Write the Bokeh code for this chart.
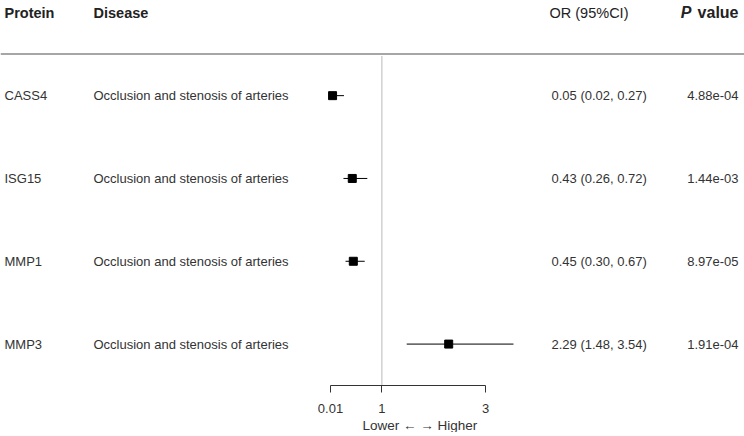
from bokeh.plotting import figure
from bokeh.models import Range1d, LinearAxis, FixedTicker, Span, Title, ColumnDataSource
from bokeh.core.properties import value
from bokeh.embed import file_html
from bokeh.resources import INLINE

# ---- data ----
proteins = ["CASS4", "ISG15", "MMP1", "MMP3"]
diseases = ["Occlusion and stenosis of arteries"] * 4
or_vals = [0.05, 0.43, 0.45, 2.29]
ci_low = [0.02, 0.26, 0.30, 1.48]
ci_high = [0.27, 0.72, 0.67, 3.54]
p_values = ["4.88e-04", "1.44e-03", "8.97e-05", "1.91e-04"]
tick_values = [0.01, 1, 3]
tick_labels = ["0.01", "1", "3"]

rows = list(range(len(proteins)))
or_text = [f"{o:.2f} ({l:.2f}, {h:.2f})" for o, l, h in zip(or_vals, ci_low, ci_high)]

FONT = "Liberation Sans"
W = 744
FH = 385
PX_PER_UNIT = 51.84
x_start = 0.01 - 330 / PX_PER_UNIT
x_end = x_start + W / PX_PER_UNIT

p = figure(frame_width=W, frame_height=FH, output_backend="svg", toolbar_location=None,
           x_range=Range1d(x_start, x_end), y_range=Range1d(3.5, -1.149),
           min_border_left=0, min_border_right=0, min_border_top=0, min_border_bottom=0,
           x_axis_type=None, y_axis_type=None)
p.extra_x_ranges = {"px": Range1d(0, W)}
p.xgrid.visible = False
p.ygrid.visible = False
p.outline_line_color = None
p.background_fill_color = "white"
p.border_fill_color = "white"

# axis
ax = LinearAxis(ticker=FixedTicker(ticks=tick_values), bounds=(0.01, 3))
ax.major_label_overrides = {v: t for v, t in zip(tick_values, tick_labels)}
ax.minor_tick_line_color = None
ax.major_tick_in = 0
ax.major_tick_out = 7
ax.axis_line_color = "#333333"
ax.major_tick_line_color = "#333333"
ax.major_label_text_font = FONT
ax.major_label_text_font_size = "13px"
ax.major_label_text_color = "#333333"
ax.major_label_standoff = 11
p.add_layout(ax, "below")

# axis caption
cap = Title(text="Lower \u2190  \u2192 Higher", align="left", offset=362, standoff=0,
            text_font=FONT, text_font_size="13.5px", text_font_style="normal",
            text_color="#333333")
p.add_layout(cap, "below")

# header line and reference line
p.add_layout(Span(location=-0.504, dimension="width", line_color="#888888", line_width=1.5))
p.segment(x0=[1], y0=[-0.48], x1=[1], y1=[3.5], line_color="#d0d0d0", line_width=1.5)

# CI + points
src = ColumnDataSource(dict(row=rows, orv=or_vals, lo=ci_low, hi=ci_high,
                            prot=proteins, dis=diseases, ort=or_text, pv=p_values))
p.segment(x0="lo", y0="row", x1="hi", y1="row", source=src, line_color="black", line_width=1)
p.scatter(x="orv", y="row", source=src, marker="square", size=8, fill_color="black", line_color="black")

# text columns (pixel positions of the columns)
src.data["xp"] = [4] * 4
src.data["xd"] = [93] * 4
src.data["xo"] = [551] * 4
src.data["xv"] = [738] * 4
common = dict(source=src, y="row", x_range_name="px", text_font=value(FONT),
              text_font_size="13px", text_color="#333333", text_baseline="middle")
p.text(x="xp", text="prot", **common)
p.text(x="xd", text="dis", **common)
p.text(x="xo", text="ort", **common)
p.text(x="xv", text="pv", text_align="right", **common)

# headers
hdr = dict(y=[-1.0], x_range_name="px", text_font=value(FONT), text_baseline="middle", text_color="#222222")
p.text(x=[4], text=["Protein"], text_font_size="14.5px", text_font_style="bold", **hdr)
p.text(x=[93], text=["Disease"], text_font_size="14.5px", text_font_style="bold", **hdr)
p.text(x=[549], text=["OR (95%CI)"], text_font_size="14.5px", **hdr)
p.text(x=[738], text=["value"], text_font_size="16px", text_font_style="bold", text_align="right", **hdr)
p.text(x=[691], text=["P"], text_font_size="16px", text_font_style="bold italic", text_align="right", **hdr)

open("out.html", "w").write(file_html(p, INLINE))
